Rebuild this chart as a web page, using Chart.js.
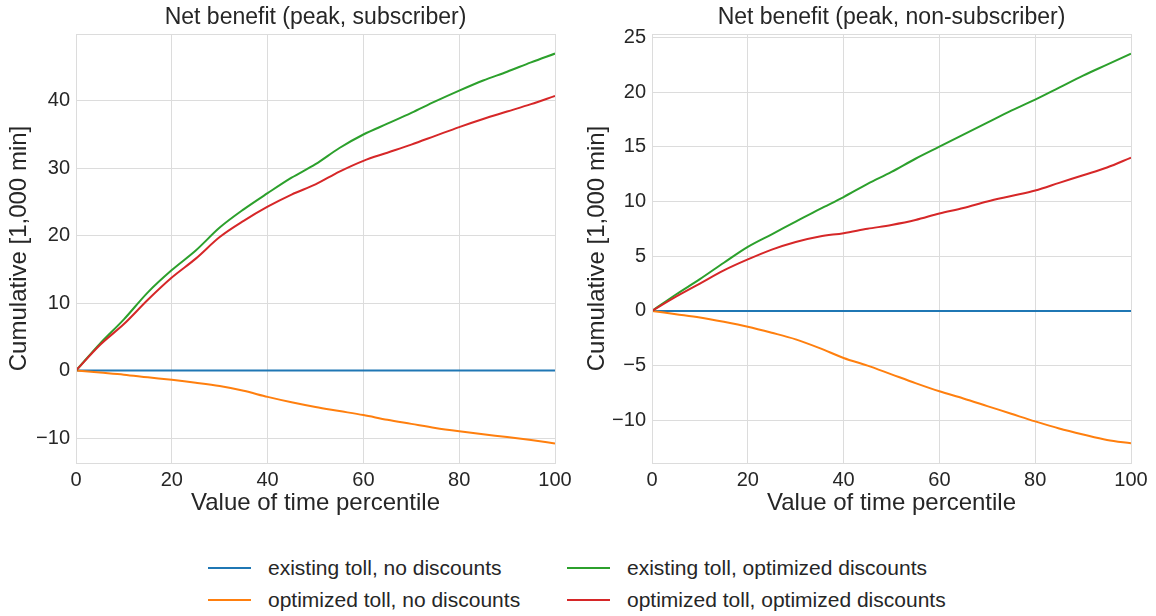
<!DOCTYPE html>
<html>
<head>
<meta charset="utf-8">
<script src="https://cdn.jsdelivr.net/npm/chart.js@4"></script>
<style>
  html, body { margin: 0; padding: 0; background: #fff; }
  body { width: 1156px; height: 616px; position: relative; overflow: hidden;
         font-family: "Liberation Sans", Arial, sans-serif; color: #262626; }
  .box { position: absolute; top: 0; width: 578px; height: 530px; }
  #left { left: 0; }
  #right { left: 578px; }
  .legend { position: absolute; left: 0; top: 0; }
  .item { position: absolute; height: 24px; font-size: 21px; line-height: 24px; white-space: nowrap; }
  .item span.swatch { position: absolute; left: 0; top: 11px; width: 43px; height: 2px; }
  .item span.label { position: absolute; left: 60px; top: 0; }
</style>
</head>
<body>
<div class="box" id="left"><canvas id="c1" width="578" height="530"></canvas></div>
<div class="box" id="right"><canvas id="c2" width="578" height="530"></canvas></div>
<div class="legend" id="legend"></div>
<script>
// percentiles on x axis
const pct = [0, 5, 10, 15, 20, 25, 30, 35, 40, 45, 50, 55, 60, 65, 70, 75, 80, 85, 90, 95, 100];

const seriesNames = [
  'existing toll, no discounts',
  'optimized toll, no discounts',
  'existing toll, optimized discounts',
  'optimized toll, optimized discounts'
];
const seriesColors = ['#1f77b4', '#ff7f0e', '#2ca02c', '#d62728'];

// subscriber panel (1,000 min)
const subExisting  = [0, 0, 0, 0, 0, 0, 0, 0, 0, 0, 0, 0, 0, 0, 0, 0, 0, 0, 0, 0, 0];
const subOptToll   = [0, -0.3, -0.6, -1.0, -1.37, -1.8, -2.3, -3.0, -3.9, -4.7, -5.4, -6.0, -6.6, -7.3, -7.9, -8.5, -9.0, -9.45, -9.85, -10.3, -10.8];
const subOptDisc   = [0, 4.0, 7.6, 11.6, 14.9, 17.8, 21.2, 23.9, 26.3, 28.6, 30.6, 33.0, 35.0, 36.6, 38.2, 39.9, 41.5, 43.0, 44.3, 45.7, 47.0];
const subOptBoth   = [0, 3.8, 6.9, 10.5, 13.8, 16.6, 19.8, 22.2, 24.3, 26.1, 27.6, 29.5, 31.1, 32.3, 33.5, 34.8, 36.1, 37.3, 38.4, 39.5, 40.7];

// non-subscriber panel (1,000 min)
const nonExisting  = [0, 0, 0, 0, 0, 0, 0, 0, 0, 0, 0, 0, 0, 0, 0, 0, 0, 0, 0, 0, 0];
const nonOptToll   = [0, -0.3, -0.6, -1.0, -1.45, -2.0, -2.6, -3.4, -4.3, -5.0, -5.8, -6.6, -7.35, -8.0, -8.7, -9.4, -10.1, -10.75, -11.3, -11.8, -12.1];
const nonOptDisc   = [0, 1.5, 2.9, 4.4, 5.85, 7.0, 8.15, 9.3, 10.4, 11.6, 12.7, 13.9, 15.0, 16.1, 17.2, 18.3, 19.3, 20.4, 21.5, 22.5, 23.5];
const nonOptBoth   = [0, 1.3, 2.5, 3.7, 4.7, 5.6, 6.3, 6.8, 7.1, 7.5, 7.85, 8.3, 8.9, 9.4, 10.0, 10.5, 11.0, 11.7, 12.4, 13.1, 14.0];

const FONT = '"Liberation Sans", Arial, sans-serif';
const TEXT = '#262626';
const GRID = '#dcdcdc';

// light grey frame round the plot area, and the title centred over the plot
const frame = {
  id: 'frame',
  afterDraw(chart, args, opts) {
    const a = chart.chartArea, c = chart.ctx;
    c.save();
    c.strokeStyle = GRID;
    c.lineWidth = 1;
    c.strokeRect(Math.round(a.left) + 0.5, Math.round(a.top) + 0.5,
                 Math.round(a.right - a.left), Math.round(a.bottom - a.top));
    c.fillStyle = TEXT;
    c.font = '23px ' + FONT;
    c.textAlign = 'center';
    c.textBaseline = 'middle';
    c.fillText(opts.text, (a.left + a.right) / 2, 18);
    c.restore();
  }
};

function makeChart(id, title, series, yMin, yMax, yStep, yWidth, padRight) {
  const datasets = series.map((vals, i) => ({
    label: seriesNames[i],
    data: pct.map((p, j) => ({ x: p, y: vals[j] })),
    borderColor: seriesColors[i],
    borderWidth: 2,
    pointRadius: 0,
    cubicInterpolationMode: 'monotone',
    order: 4 - i
  }));
  return new Chart(document.getElementById(id), {
    type: 'line',
    data: { datasets },
    plugins: [frame],
    options: {
      responsive: false,
      animation: false,
      layout: { padding: { left: 0, right: padRight, top: 34, bottom: 0 } },
      plugins: {
        legend: { display: false },
        tooltip: { enabled: false },
        title: { display: false },
        frame: { text: title }
      },
      scales: {
        x: {
          type: 'linear', min: 0, max: 100,
          afterFit(s) { s.height = 67; },
          grid: { color: GRID, drawTicks: false },
          border: { color: GRID },
          ticks: {
            stepSize: 20, color: TEXT, padding: 5,
            font: { family: FONT, size: 20 }
          },
          title: {
            display: true, text: 'Value of time percentile', color: TEXT,
            font: { family: FONT, size: 24 }, padding: { top: 0, bottom: 12 }
          }
        },
        y: {
          min: yMin, max: yMax,
          afterFit(s) { s.width = yWidth; },
          grid: { color: GRID, drawTicks: false },
          border: { color: GRID },
          ticks: {
            stepSize: yStep, includeBounds: false, color: TEXT, padding: 6,
            font: { family: FONT, size: 20 },
            callback: v => String(v).replace('-', '\u2212')
          },
          title: {
            display: true, text: 'Cumulative [1,000 min]', color: TEXT,
            font: { family: FONT, size: 24 }, padding: { top: 5, bottom: 0 }
          }
        }
      }
    }
  });
}

makeChart('c1', 'Net benefit (peak, subscriber)',
  [subExisting, subOptToll, subOptDisc, subOptBoth], -13.7, 49.9, 10, 76, 23);
makeChart('c2', 'Net benefit (peak, non-subscriber)',
  [nonExisting, nonOptToll, nonOptDisc, nonOptBoth], -13.9, 25.3, 5, 74, 25);

// shared legend below both panels, two columns
const legendPos = [[208, 556], [208, 588], [567, 556], [567, 588]];
const leg = document.getElementById('legend');
seriesNames.forEach((name, i) => {
  const it = document.createElement('div');
  it.className = 'item';
  it.style.left = legendPos[i][0] + 'px';
  it.style.top = legendPos[i][1] + 'px';
  it.innerHTML = '<span class="swatch" style="background:' + seriesColors[i] + '"></span>' +
                 '<span class="label">' + name + '</span>';
  leg.appendChild(it);
});
</script>
</body>
</html>
